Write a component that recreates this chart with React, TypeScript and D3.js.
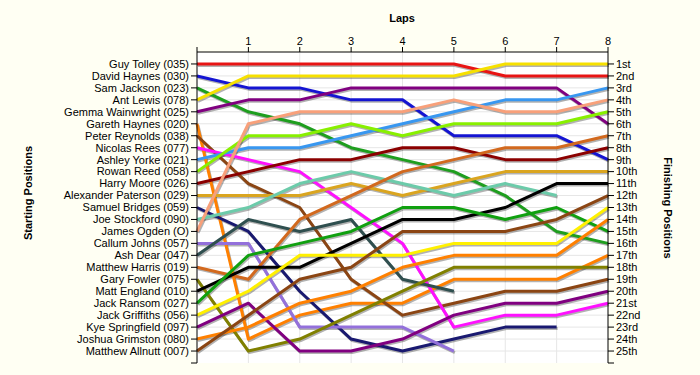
import * as d3 from 'd3';
import React from 'react';

// laps along the top axis
const laps = [0, 1, 2, 3, 4, 5, 6, 7, 8];
const lapLabels = ['1', '2', '3', '4', '5', '6', '7', '8'];

const drivers = [
  'Guy Tolley (035)', 'David Haynes (030)', 'Sam Jackson (023)', 'Ant Lewis (078)',
  'Gemma Wainwright (025)', 'Gareth Haynes (020)', 'Peter Reynolds (038)', 'Nicolas Rees (077)',
  'Ashley Yorke (021)', 'Rowan Reed (058)', 'Harry Moore (026)', 'Alexander Paterson (029)',
  'Samuel Bridges (059)', 'Joe Stockford (090)', 'James Ogden (O)', 'Callum Johns (057)',
  'Ash Dear (047)', 'Matthew Harris (019)', 'Gary Fowler (075)', 'Matt England (010)',
  'Jack Ransom (027)', 'Jack Griffiths (056)', 'Kye Springfield (097)', 'Joshua Grimston (080)',
  'Matthew Allnutt (007)',
];

const finishLabels = [
  '1st', '2nd', '3rd', '4th', '5th', '6th', '7th', '8th', '9th', '10th', '11th', '12th', '13th',
  '14th', '15th', '16th', '17th', '18th', '19th', '20th', '21st', '22nd', '23rd', '24th', '25th',
];

const lineColors = [
  '#e81414', '#1414d2', '#1e9e1e', '#f6e000', '#800080', '#ff8000', '#8b4513', '#ff10ff',
  '#3897f0', '#88f000', '#8b0000', '#daa520', '#191970', '#6ccbaa', '#f8a07a', '#9370db',
  '#2f4f4f', '#d2691e', '#808000', '#000000', '#10a010', '#fff000', '#800080', '#ff8000',
  '#8b4513',
];

// position of each driver after each lap (null = retired)
const positions: (number | null)[][] = [
  [1, 1, 1, 1, 1, 1, 2, 2, 2],
  [2, 3, 3, 4, 4, 7, 7, 7, 9],
  [3, 5, 6, 8, 9, 10, 12, 15, 16],
  [4, 2, 2, 2, 2, 2, 1, 1, 1],
  [5, 4, 4, 3, 3, 3, 3, 3, 6],
  [6, 24, 22, 21, 21, 19, 19, 19, 17],
  [7, 11, 13, 19, 22, 21, 20, 20, 19],
  [8, 9, 10, 13, 16, 23, 22, 22, 21],
  [9, 8, 8, 7, 6, 5, 4, 4, 3],
  [10, 7, 7, 6, 7, 6, 6, 6, 5],
  [11, 10, 9, 9, 8, 8, 9, 9, 8],
  [12, 12, 12, 11, 12, 11, 10, 10, 10],
  [13, 15, 20, 24, 25, 24, 23, 23, null],
  [14, 13, 11, 10, 11, 12, 11, 12, null],
  [15, 6, 5, 5, 5, 4, 5, 5, 4],
  [16, 16, 23, 23, 23, 25, null, null, null],
  [17, 14, 15, 14, 19, 20, null, null, null],
  [18, 19, 14, 12, 10, 9, 8, 8, 7],
  [19, 25, 24, 22, 20, 18, 18, 18, 18],
  [20, 18, 18, 16, 14, 14, 13, 11, 11],
  [21, 17, 16, 15, 13, 13, 14, 13, 15],
  [22, 20, 17, 17, 17, 16, 16, 16, 13],
  [23, 21, 25, 25, 24, 22, 21, 21, 20],
  [24, 23, 21, 20, 18, 17, 17, 17, 14],
  [25, 22, 19, 18, 15, 15, 15, 14, 12],
];

const width = 700;
const height = 375;
const plot = { left: 197, right: 608, top: 52, bottom: 363 };
const font = '"Liberation Sans", Arial, sans-serif';

export default function App() {
  const x = d3.scaleLinear().domain([0, 8]).range([plot.left, plot.right]);
  const y = d3.scaleLinear().domain([0, 26]).range([plot.top, plot.bottom]);
  const rows = d3.range(1, 26);

  const line = d3
    .line<number | null>()
    .defined((d) => d !== null)
    .x((_, i) => x(laps[i]))
    .y((d) => y(d as number));

  return (
    <svg
      width={width}
      height={height}
      style={{ position: 'absolute', left: 0, top: 0, background: '#fffff3' }}
      fontFamily={font}
    >
      <rect x={plot.left} y={plot.top} width={plot.right - plot.left} height={plot.bottom - plot.top} fill="#ffffff" />
      {rows.map((r) => (
        <line key={'h' + r} x1={plot.left} x2={plot.right} y1={y(r)} y2={y(r)} stroke="#e6e6e6" />
      ))}
      {laps.slice(1, 8).map((l) => (
        <line key={'v' + l} x1={x(l)} x2={x(l)} y1={plot.top} y2={plot.bottom} stroke="#e6e6e6" />
      ))}

      {positions.map((p, i) => (
        <path key={'s' + i} d={line(p) || ''} fill="none" stroke="rgba(0,0,0,0.3)" strokeWidth={3}
          transform="translate(1,1.5)" strokeLinejoin="round" />
      ))}
      {positions.map((p, i) => (
        <path key={'l' + i} d={line(p) || ''} fill="none" stroke={lineColors[i]} strokeWidth={3} strokeLinejoin="round" />
      ))}

      {/* top axis */}
      <line x1={plot.left} x2={plot.right} y1={plot.top} y2={plot.top} stroke="#000" />
      {laps.map((l) => (
        <line key={'tt' + l} x1={x(l)} x2={x(l)} y1={plot.top - 5} y2={plot.top} stroke="#000" />
      ))}
      {lapLabels.map((t, i) => (
        <text key={'tl' + t} x={x(i + 1)} y={45} fontSize={11} textAnchor="middle">{t}</text>
      ))}

      {/* left axis */}
      <line x1={plot.left} x2={plot.left} y1={plot.top} y2={plot.bottom} stroke="#000" />
      {rows.map((r) => (
        <line key={'lt' + r} x1={plot.left - 6} x2={plot.left} y1={y(r)} y2={y(r)} stroke="#000" />
      ))}
      <line x1={plot.left - 6} x2={plot.left} y1={plot.bottom} y2={plot.bottom} stroke="#000" />
      {drivers.map((d, i) => (
        <text key={'ll' + i} x={plot.left - 8} y={y(i + 1)} dy="0.35em" fontSize={11} textAnchor="end">{d}</text>
      ))}

      {/* right axis */}
      <line x1={plot.right} x2={plot.right} y1={plot.top} y2={plot.bottom} stroke="#000" />
      {rows.map((r) => (
        <line key={'rt' + r} x1={plot.right} x2={plot.right + 6} y1={y(r)} y2={y(r)} stroke="#000" />
      ))}
      <line x1={plot.right} x2={plot.right + 6} y1={plot.bottom} y2={plot.bottom} stroke="#000" />
      {finishLabels.map((f, i) => (
        <text key={'rl' + i} x={plot.right + 8} y={y(i + 1)} dy="0.35em" fontSize={11}>{f}</text>
      ))}

      <text x={402} y={22} fontSize={11} fontWeight="bold" textAnchor="middle">Laps</text>
      <text transform="translate(32,193) rotate(-90)" fontSize={11} fontWeight="bold" textAnchor="middle">Starting Positions</text>
      <text transform="translate(664,208) rotate(90)" fontSize={11} fontWeight="bold" textAnchor="middle">Finishing Positions</text>
    </svg>
  );
}
